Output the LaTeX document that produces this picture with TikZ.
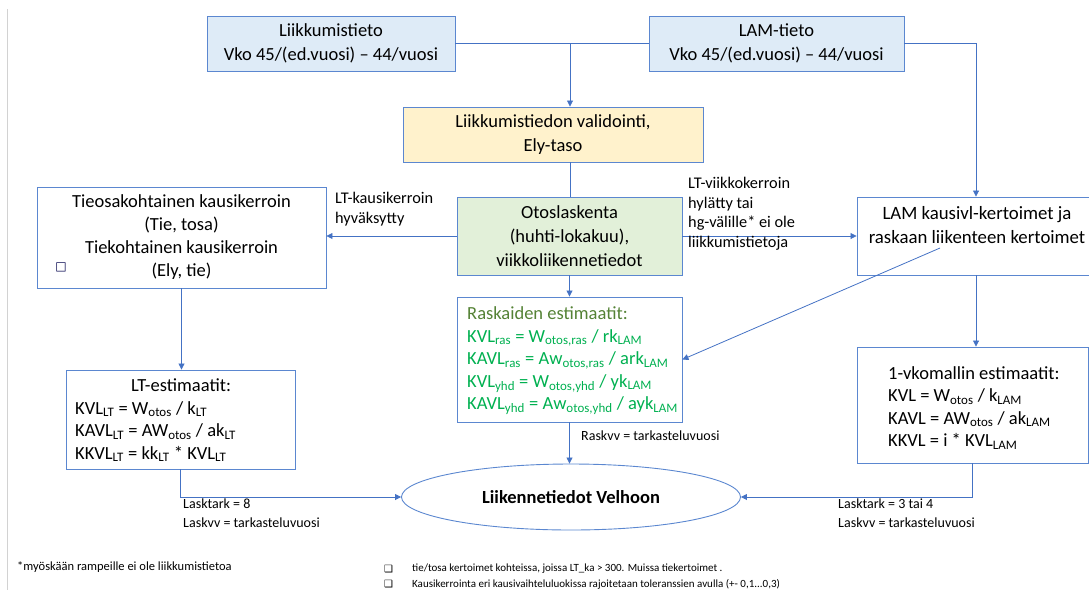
\documentclass[tikz,border=0pt]{standalone}
\usepackage{fontspec}
\setmainfont{Carlito}
\newfontfamily\symf{DejaVu Sans}
\usetikzlibrary{shapes.geometric,arrows.meta}
\definecolor{bord}{HTML}{5B87D0}
\definecolor{fblue}{HTML}{DEEBF7}
\definecolor{fyel}{HTML}{FFF2CC}
\definecolor{fgrn}{HTML}{E2F0D9}
\definecolor{olive}{HTML}{548235}
\definecolor{grn}{HTML}{00B050}
\definecolor{ln}{HTML}{4472C4}
\begin{document}
\begin{tikzpicture}[x=1pt,y=-1pt,
 box/.style={draw=bord, line width=0.9pt, inner sep=0pt, align=center, font=\fontsize{18.5}{24}\selectfont},
 txt/.style={inner sep=0pt, align=left, font=\fontsize{18.5}{22.5}\selectfont},
 conn/.style={draw=ln, line width=0.8pt},
 arr/.style={conn, -{Triangle[width=6pt,length=6pt]}},
 lbl/.style={font=\fontsize{16.3}{19.5}\selectfont, align=left, inner sep=0pt, anchor=north west},
 sml/.style={font=\fontsize{14}{19}\selectfont, align=left, inner sep=0pt, anchor=north west},
 fn/.style={font=\fontsize{12.5}{12}\selectfont, inner sep=0pt, anchor=west},
 fnb/.style={font=\fontsize{11}{12}\selectfont, inner sep=0pt, anchor=west},
]
\useasboundingbox (0,0) rectangle (1089,590);
\draw[gray!35, line width=0.8pt] (7,9) -- (7,590);

% boxes
\node[box, fill=fblue, minimum width=248pt, minimum height=55pt] (lt) at (331,43.5) {Liikkumistieto\\Vko 45/(ed.vuosi) – 44/vuosi};
\node[box, fill=fblue, minimum width=255pt, minimum height=55pt] (lam) at (776.5,43.5) {LAM-tieto\\Vko 45/(ed.vuosi) – 44/vuosi};
\node[box, fill=fyel, minimum width=300pt, minimum height=55pt] (val) at (553,134.5) {Liikkumistiedon validointi,\\Ely-taso};
\node[box, fill=fgrn, minimum width=225pt, minimum height=78pt] (oto) at (569.5,236) {Otoslaskenta\\(huhti-lokakuu),\\viikkoliikennetiedot};
\node[box, minimum width=289pt, minimum height=101pt, font=\fontsize{18.5}{23}\selectfont] (tk) at (181.5,237.5) {Tieosakohtainen kausikerroin\\(Tie, tosa)\\Tiekohtainen kausikerroin\\(Ely, tie)};
\node[inner sep=0pt, text=blue!30!black, font=\symf\fontsize{12}{12}\selectfont] (chk) at (61,267) {□};
\node[box, minimum width=238pt, minimum height=78pt] (lamk) at (976,236) {};
\node[txt, align=center, font=\fontsize{18.8}{24}\selectfont] (lamkt) at (977,225) {LAM kausivl-kertoimet ja\\raskaan liikenteen kertoimet};

\node[box, minimum width=225pt, minimum height=125pt] (ras) at (569.5,359.5) {};
\node[txt, anchor=west, text=grn] (rast) at (467,361) {{\color{olive}Raskaiden estimaatit:}\\
KVL\textsubscript{ras} = W\textsubscript{otos,ras} / rk\textsubscript{LAM}\\
KAVL\textsubscript{ras} = Aw\textsubscript{otos,ras} / ark\textsubscript{LAM}\\
KVL\textsubscript{yhd} = W\textsubscript{otos,yhd} / yk\textsubscript{LAM}\\
KAVL\textsubscript{yhd} = Aw\textsubscript{otos,yhd} / ayk\textsubscript{LAM}};

\node[box, minimum width=229pt, minimum height=99pt] (lte) at (180.5,419.5) {};
\node[txt, anchor=north, align=center] (ltet) at (181,378) {LT-estimaatit:};
\node[txt, anchor=north west] (ltef) at (75,401) {KVL\textsubscript{LT} = W\textsubscript{otos} / k\textsubscript{LT}\\
KAVL\textsubscript{LT} = AW\textsubscript{otos} / ak\textsubscript{LT}\\
KKVL\textsubscript{LT} = kk\textsubscript{LT} * KVL\textsubscript{LT}};

\node[box, minimum width=231pt, minimum height=116pt] (vko) at (972.5,405) {};
\node[txt, anchor=west] (vkot) at (888,408) {1-vkomallin estimaatit:\\
KVL = W\textsubscript{otos} / k\textsubscript{LAM}\\
KAVL = AW\textsubscript{otos} / ak\textsubscript{LAM}\\
KKVL = i * KVL\textsubscript{LAM}};

\node[ellipse, draw=bord, line width=0.9pt, minimum width=339pt, minimum height=66pt, inner sep=0pt, font=\bfseries\fontsize{18.5}{20}\selectfont] (ell) at (571,497) {Liikennetiedot Velhoon};

% connectors
\coordinate (j1) at (570,43.5);
\draw[conn] (lt.east) -- (lam.west);
\draw[arr] (j1) -- (j1 |- val.north);
\draw[arr] (lam.east) -| (lamk.north);
\draw[conn] (j1 |- val.south) -- (j1 |- oto.north);
\draw[arr] (oto.west) -- (oto.west -| tk.east);
\draw[arr] (oto.east) -- (oto.east -| lamk.west);
\draw[arr] (oto.south) -- (ras.north);
\draw[arr] (tk.south) -- (tk.south |- lte.north);
\draw[arr] (lamk.south) -- (lamk.south |- vko.north);
\coordinate (ls) at (940,248);
\draw[arr] (ls) -- (ras.east);
\draw[arr] (ras.south) -- (ras.south |- ell.north);
\draw[arr] (lte.south) |- (ell.west);
\draw[arr] (vko.south) |- (ell.east);

% labels
\node[lbl] (l1) at (335,192) {LT-kausikerroin\\hyväksytty};
\node[lbl] (l2) at (688,177) {LT-viikkokerroin\\hylätty tai\\hg-välille* ei ole\\liikkumistietoja};
\node[sml] (l3) at (581,431) {Raskvv = tarkasteluvuosi};
\node[sml] (l4) at (183,499) {Lasktark = 8\\Laskvv = tarkasteluvuosi};
\node[sml] (l5) at (838,499) {Lasktark = 3 tai 4\\Laskvv = tarkasteluvuosi};

% footnotes
\node[fn] (f1) at (17,567) {*myöskään rampeille ei ole liikkumistietoa};
\node[fn, font=\symf\fontsize{10}{10}\selectfont] (c1) at (384,569) {❑};
\node[fnb] (f2) at (412,569) {tie/tosa kertoimet kohteissa, joissa LT\_ka > 300. Muissa tiekertoimet .};
\node[fn, font=\symf\fontsize{10}{10}\selectfont] (c2) at (384,584) {❑};
\node[fnb] (f3) at (412,584) {Kausikerrointa eri kausivaihteluluokissa rajoitetaan toleranssien avulla (+- 0,1...0,3)};
\end{tikzpicture}
\end{document}
